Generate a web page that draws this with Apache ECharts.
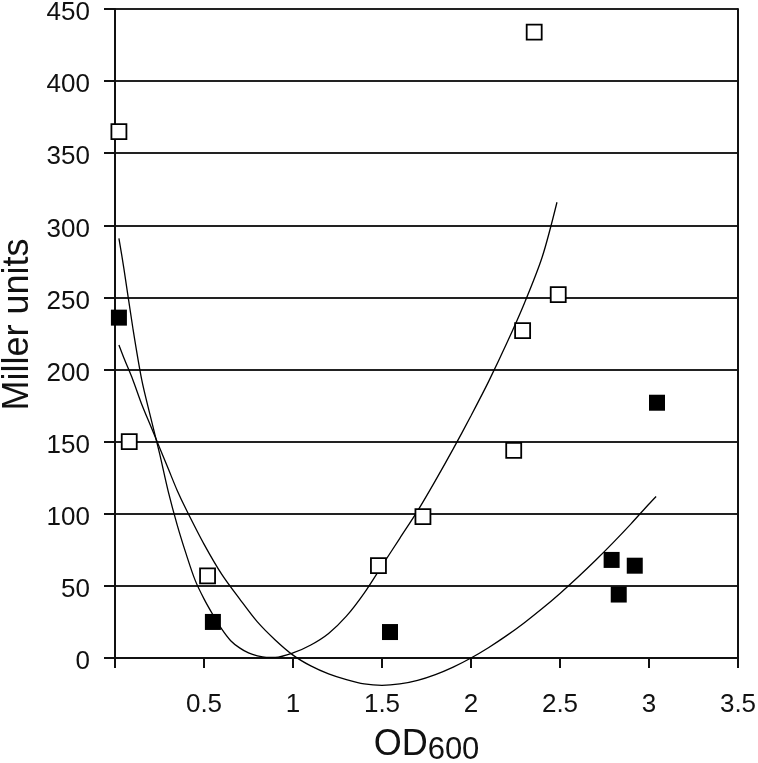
<!DOCTYPE html>
<html>
<head>
<meta charset="utf-8">
<script src="https://cdn.jsdelivr.net/npm/echarts@6/dist/echarts.min.js"></script>
<style>
  html, body { margin: 0; padding: 0; background: #fff; }
  #chart { width: 758px; height: 763px; }
</style>
</head>
<body>
<div id="chart"></div>
<script>
// open squares
const openPoints = [
  [0.022, 365], [0.08, 150], [0.52, 57], [1.48, 64], [1.73, 98],
  [2.24, 144], [2.29, 227], [2.355, 434], [2.49, 252],
]
// filled squares
const filledPoints = [
  [0.022, 236], [0.55, 25], [1.545, 18], [2.79, 68],
  [2.83, 44], [2.92, 64], [3.045, 177],
]
// trend curves
const curveA = [
  [0.022, 291], [0.05, 270], [0.1, 229], [0.15, 193], [0.2, 167],
  [0.25, 142], [0.3, 115], [0.35, 92], [0.4, 72], [0.45, 54],
  [0.5, 41], [0.55, 30], [0.6, 20], [0.65, 12], [0.7, 7], [0.75, 3.5],
  [0.8, 1.5], [0.85, 0.5], [0.9, 0.5], [1.0, 3.5], [1.1, 9],
  [1.2, 17], [1.3, 29], [1.4, 45], [1.5, 64], [1.6, 83], [1.7, 102],
  [1.8, 123], [1.9, 145], [2.0, 168], [2.1, 192], [2.2, 218],
  [2.3, 246], [2.4, 278], [2.483, 316],
]
const curveB = [
  [0.022, 217], [0.05, 208], [0.1, 193], [0.15, 176], [0.2, 161],
  [0.25, 146], [0.3, 131], [0.35, 116], [0.4, 103], [0.5, 79],
  [0.6, 58], [0.7, 41], [0.8, 25], [0.9, 12.5], [1.0, 2], [1.1, -5.5],
  [1.2, -11], [1.3, -15], [1.4, -18], [1.5, -19], [1.6, -18],
  [1.7, -15.5], [1.8, -11.5], [1.9, -6.3], [2.0, 0], [2.1, 7.3],
  [2.2, 15.5], [2.3, 24.5], [2.4, 34.3], [2.5, 44.8], [2.6, 56],
  [2.7, 67.8], [2.8, 80.2], [2.9, 93.2], [3.0, 106.8], [3.04, 112],
]
const yTicks = [0, 50, 100, 150, 200, 250, 300, 350, 400, 450]
const xTicks = [0, 0.5, 1, 1.5, 2, 2.5, 3, 3.5]

const ink = '#111'
const font = 'Liberation Sans, Arial, sans-serif'

const chart = echarts.init(document.getElementById('chart'))

const option = {
  animation: false,
  backgroundColor: '#fff',
  grid: { left: 115, right: 20, top: 9, bottom: 105, outerBoundsMode: 'none', containLabel: false },
  xAxis: {
    type: 'value',
    min: xTicks[0],
    max: xTicks[xTicks.length - 1],
    interval: 0.5,
    name: '{a|OD}{b|600}',
    nameLocation: 'middle',
    nameGap: 67,
    nameTextStyle: {
      rich: {
        a: { fontSize: 36, fontFamily: font, color: ink },
        b: { fontSize: 31, fontFamily: font, color: ink, padding: [10, 0, 0, 0] },
      },
    },
    axisLine: { lineStyle: { color: ink, width: 2 } },
    axisTick: { length: 10, lineStyle: { color: ink, width: 2 } },
    axisLabel: {
      margin: 34,
      fontSize: 26,
      fontFamily: font,
      color: ink,
      formatter: (v) => (v === 0 ? '' : String(v)),
    },
    splitLine: { show: false },
  },
  yAxis: [
    {
      type: 'value',
      min: yTicks[0],
      max: yTicks[yTicks.length - 1],
      interval: 50,
      name: 'Miller units',
      nameLocation: 'middle',
      nameGap: 75,
      nameTextStyle: { fontSize: 36, fontFamily: font, color: ink, padding: [0, 0, 0, 18] },
      axisLine: { show: true, lineStyle: { color: ink, width: 2 } },
      axisTick: { show: true, length: 11, lineStyle: { color: ink, width: 2 } },
      axisLabel: {
        margin: 25,
        formatter: (v) => '{t|' + v + '}',
        rich: { t: { fontSize: 26, fontFamily: font, color: ink, padding: [8, 0, 0, 0] } },
      },
      splitLine: { show: true, lineStyle: { color: '#222', width: 2 } },
    },
    {
      type: 'value',
      position: 'right',
      min: yTicks[0],
      max: yTicks[yTicks.length - 1],
      interval: 50,
      axisLine: { show: true, lineStyle: { color: ink, width: 2 } },
      axisTick: { show: false },
      axisLabel: { show: false },
      splitLine: { show: false },
    },
  ],
  series: [
    {
      type: 'line',
      data: curveA,
      smooth: 0.3,
      clip: false,
      showSymbol: false,
      lineStyle: { color: '#000', width: 1.3 },
      z: 2,
    },
    {
      type: 'line',
      data: curveB,
      smooth: 0.3,
      clip: false,
      showSymbol: false,
      lineStyle: { color: '#000', width: 1.3 },
      z: 2,
    },
    {
      type: 'scatter',
      data: openPoints,
      symbol: 'rect',
      symbolSize: 15,
      itemStyle: { color: '#fff', borderColor: '#000', borderWidth: 1.8, opacity: 1 },
      z: 3,
    },
    {
      type: 'scatter',
      data: filledPoints,
      symbol: 'rect',
      symbolSize: 16,
      itemStyle: { color: '#000', opacity: 1 },
      z: 3,
    },
  ],
}

chart.setOption(option)
</script>
</body>
</html>
